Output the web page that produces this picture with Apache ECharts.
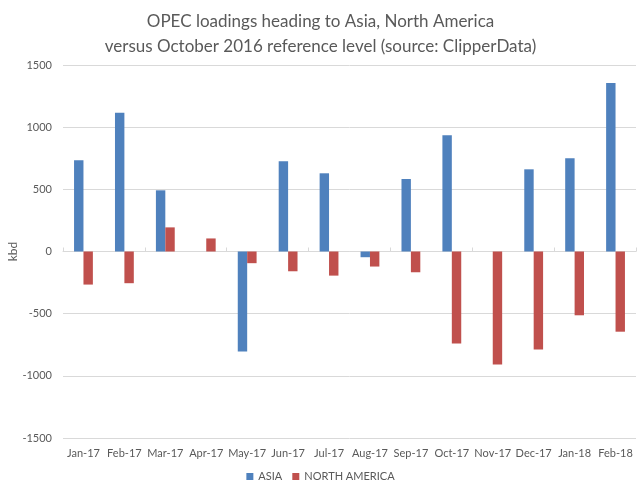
<!DOCTYPE html>
<html><head><meta charset="utf-8">
<script src="https://cdn.jsdelivr.net/npm/echarts@6/dist/echarts.min.js"></script>
<style>html,body{margin:0;padding:0;background:#fff}#c{width:641px;height:494px}</style>
</head><body><div id="c"></div>
<script>
const categories = ['Jan-17','Feb-17','Mar-17','Apr-17','May-17','Jun-17','Jul-17','Aug-17','Sep-17','Oct-17','Nov-17','Dec-17','Jan-18','Feb-18'];
const asia = [734, 1115, 492, 0, -804, 726, 629, -46, 583, 935, 0, 661, 750, 1355];
const northAmerica = [-266, -255, 194, 105, -94, -159, -194, -121, -167, -739, -909, -788, -513, -645];
const yTicks = { min: -1500, max: 1500, interval: 500 };
const FONT = 'Lato';
const chart = echarts.init(document.getElementById('c'));
chart.setOption({
  animation: false,
  title: {
    text: 'OPEC loadings heading to Asia, North America\nversus October 2016 reference level (source: ClipperData)',
    left: 'center', top: 4,
    textStyle: { fontFamily: FONT, fontSize: 17, fontWeight: 'normal', color: '#595959', lineHeight: 25 }
  },
  legend: {
    bottom: 7, left: 'center', itemWidth: 7, itemHeight: 7, itemGap: 10,
    textStyle: { fontFamily: FONT, fontSize: 11, color: '#595959' },
    data: [{name:'ASIA', icon:'rect'}, {name:'NORTH AMERICA', icon:'rect'}]
  },
  grid: { left: 63, right: 5, top: 65, bottom: 56, containLabel: false, outerBoundsMode: 'none' },
  xAxis: [{
    type: 'category', data: categories, position: 'bottom',
    axisLine: { show: false, onZero: false }, axisTick: { show: false },
    axisLabel: { fontFamily: FONT, fontSize: 11, color: '#595959', margin: 10, interval: 0 }
  }, {
    type: 'category', data: categories,
    axisLine: { show: true, onZero: true, lineStyle: { color: '#D9D9D9' } },
    axisTick: { show: true, length: 4, lineStyle: { color: '#D9D9D9' } },
    axisLabel: { show: false }
  }],
  yAxis: {
    type: 'value', min: yTicks.min, max: yTicks.max, interval: yTicks.interval,
    name: 'kbd', nameLocation: 'middle', nameGap: 44, nameRotate: 90, nameMoveOverlap: false,
    nameTextStyle: { fontFamily: FONT, fontSize: 12, color: '#595959' },
    axisLine: { show: false }, axisTick: { show: false },
    axisLabel: { fontFamily: FONT, fontSize: 11, color: '#595959', margin: 11, formatter: v => String(v) },
    splitLine: { lineStyle: { color: '#D9D9D9' } }
  },
  series: [
    { name: 'ASIA', type: 'bar', data: asia, itemStyle: { color: '#4F81BD' }, barGap: '0%', barCategoryGap: '54%' },
    { name: 'NORTH AMERICA', type: 'bar', data: northAmerica, itemStyle: { color: '#C0504D' }, barGap: '0%', barCategoryGap: '54%' }
  ]
});
</script></body></html>
